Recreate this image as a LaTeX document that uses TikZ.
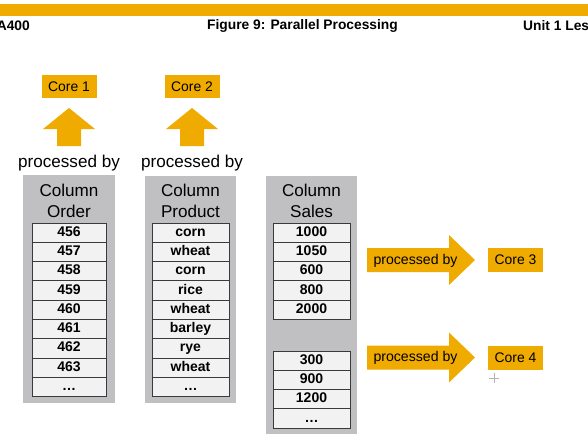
\documentclass[tikz,border=0pt]{standalone}
\usepackage{fontspec}
\setmainfont{Liberation Sans}
\definecolor{sapgold}{HTML}{F0AB00}
\definecolor{colgray}{HTML}{C0BFC1}
\definecolor{cellfill}{HTML}{F2F2F2}
\definecolor{celledge}{HTML}{3A3A3A}
\begin{document}
\begin{tikzpicture}[x=1pt, y=-1pt, line join=miter,
    core/.style={fill=sapgold, minimum width=55pt, minimum height=23pt,
                 inner sep=0pt, font=\fontsize{13.9}{16}\selectfont},
    colbox/.style={fill=colgray, inner sep=0pt},
    coltitle/.style={align=center, inner sep=0pt,
                     font=\fontsize{17.1}{21}\selectfont},
    cell/.style={draw=celledge, fill=cellfill, line width=1pt,
                 minimum height=19.3pt, inner sep=0pt,
                 text height=10pt, text depth=3pt,
                 font=\bfseries\fontsize{14}{16}\selectfont},
    procbig/.style={inner sep=0pt, font=\fontsize{17.1}{19}\selectfont},
    procsmall/.style={inner sep=0pt, font=\fontsize{14.1}{16}\selectfont},
    header/.style={inner sep=0pt, font=\bfseries\fontsize{13.8}{16}\selectfont}]
  \useasboundingbox (0,0) rectangle (588,442);
  \clip (0,0) rectangle (588,442);

  % Page header
  \fill[sapgold] (0,4) rectangle (588,16);
  \node[header, anchor=east] (hleft)  at (30,26)    {A400};
  \node[header]              (htitle) at (302.5,26) {Figure 9: Parallel Processing};
  \node[header, anchor=west] (hright) at (523,26)   {Unit 1 Les};

  % Column blocks (gray)
  \node[colbox, minimum width=92pt, minimum height=228pt] (colOrder)   at (69,289)    {};
  \node[colbox, minimum width=91pt, minimum height=227pt] (colProduct) at (190.5,289.5) {};
  \node[colbox, minimum width=91pt, minimum height=258pt] (colSales)   at (311.5,305) {};

  \node[coltitle] (tOrder)   at (69,200.5)    {Column\\Order};
  \node[coltitle] (tProduct) at (190.5,200.5) {Column\\Product};
  \node[coltitle] (tSales)   at (311.5,201)   {Column\\Sales};

  % Cells
  \foreach \v [count=\i] in {456,457,458,459,460,461,462,463,\dots}
    \node[cell, minimum width=74pt] (ord\i) at (69,{232.65+(\i-1)*19.3}) {\v};
  \foreach \v [count=\i] in {corn,wheat,corn,rice,wheat,barley,rye,wheat,\dots}
    \node[cell, minimum width=77pt] (prod\i) at (190.5,{232.65+(\i-1)*19.3}) {\v};
  \foreach \v [count=\i] in {1000,1050,600,800,2000}
    \node[cell, minimum width=77pt] (salA\i) at (311.5,{232.65+(\i-1)*19.3}) {\v};
  \foreach \v [count=\i] in {300,900,1200,\dots}
    \node[cell, minimum width=77pt] (salB\i) at (311.5,{360.65+(\i-1)*19.3}) {\v};

  % Cores 1 and 2 with upward block arrows
  \foreach \cx/\k in {69/1, 192/2} {
    \node[core] (core\k) at (\cx,86.5) {Core \k};
    \fill[sapgold] (\cx-12,146) -- (\cx-12,129) -- (\cx-26,129) -- (\cx,108)
                   -- (\cx+26,129) -- (\cx+12,129) -- (\cx+12,146) -- cycle;
    \node[procbig] (proc\k) at (\cx,163) {processed by};
  }

  % Cores 3 and 4 with right block arrows
  \foreach \cy/\k in {260/3, 357.5/4} {
    \fill[sapgold] (367,\cy-12) -- (449,\cy-12) -- (449,\cy-25) -- (475,\cy)
                   -- (449,\cy+25) -- (449,\cy+12) -- (367,\cy+12) -- cycle;
    \node[procsmall] (proc\k) at (415.5,\cy+0.5) {processed by};
    \node[core, minimum height=24pt] (core\k) at (515.5,\cy) {Core \k};
  }

  % Mouse cursor
  \draw[gray!60, line width=0.6pt] (489,378) -- (499,378) (494,373) -- (494,383);
\end{tikzpicture}
\end{document}
